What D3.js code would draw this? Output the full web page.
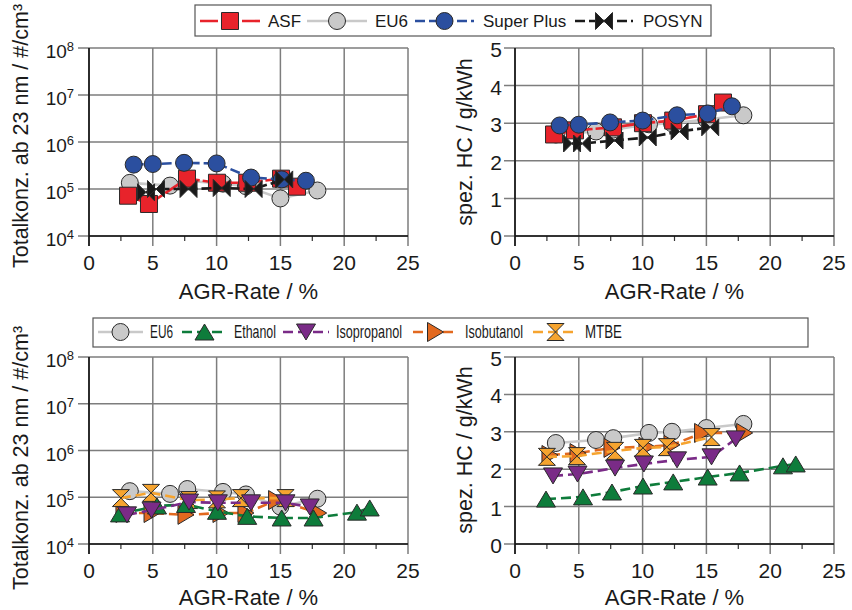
<!DOCTYPE html>
<html>
<head>
<meta charset="utf-8">
<script src="https://d3js.org/d3.v7.min.js"></script>
<style>
  body { margin: 0; background: #fff; }
  text { font-family: "Liberation Sans", Arial, Helvetica, sans-serif; fill: #1a1a1a; }
</style>
</head>
<body>
<div id="chart"></div>
<script>
// tick values
var xTicks = [0, 5, 10, 15, 20, 25];
var xMinor = [2.5, 7.5, 12.5, 17.5, 22.5];
var pnTicks = [1e4, 1e5, 1e6, 1e7, 1e8];
var hcTicks = [0, 1, 2, 3, 4, 5];

// ASF
var asfRate = [3.06, 4.7, 7.68, 10.03, 12.4, 15.05, 16.3];
var asfPN   = [7.2e4, 4.8e4, 1.66e5, 1.36e5, 1.36e5, 1.66e5, 1.12e5];
var asfHC   = [2.7, 2.81, 2.89, 3.0, 3.07, 3.24, 3.55];
// EU6
var eu6Rate = [3.2, 6.35, 7.7, 10.5, 12.3, 15.0, 17.9];
var eu6PN   = [1.35e5, 1.18e5, 1.5e5, 1.3e5, 1.15e5, 6.3e4, 9.3e4];
var eu6HC   = [2.7, 2.78, 2.83, 2.97, 3.0, 3.1, 3.21];
// Super Plus
var spRate = [3.5, 5.0, 7.45, 10.0, 12.7, 15.1, 17.0];
var spPN   = [3.3e5, 3.4e5, 3.6e5, 3.5e5, 1.75e5, 1.6e5, 1.5e5];
var spHC   = [2.94, 2.96, 3.02, 3.07, 3.21, 3.26, 3.45];
// POSYN
var posRate = [4.47, 5.25, 7.8, 10.4, 12.9, 15.3];
var posPN   = [8.5e4, 1.0e5, 1.0e5, 1.05e5, 1.0e5, 1.6e5];
var posHC   = [2.46, 2.46, 2.54, 2.62, 2.78, 2.89];
// Ethanol
var ethRate = [2.43, 5.33, 7.6, 10.03, 12.4, 15.1, 17.6, 21.0, 22.0];
var ethPN   = [4.4e4, 6.5e4, 7.0e4, 5.0e4, 3.9e4, 3.6e4, 3.6e4, 4.8e4, 5.9e4];
var ethHC   = [1.2, 1.26, 1.39, 1.55, 1.66, 1.79, 1.9, 2.09, 2.14];
// Isopropanol
var iprRate = [2.98, 4.9, 7.84, 10.1, 12.7, 15.4, 17.3];
var iprPN   = [4.2e4, 5.3e4, 7.9e4, 7.6e4, 7.6e4, 7.6e4, 6.2e4];
var iprHC   = [1.82, 1.87, 2.03, 2.14, 2.25, 2.33, 2.81];
// Isobutanol
var ibuRate = [2.74, 4.94, 7.6, 10.34, 12.3, 14.7, 18.0];
var ibuPN   = [4.6e4, 4.6e4, 4.2e4, 4.6e4, 4.6e4, 8.7e4, 4.6e4];
var ibuHC   = [2.38, 2.43, 2.57, 2.6, 2.65, 2.97, 2.97];
// MTBE
var mtbRate = [2.5, 4.86, 7.84, 10.03, 11.9, 15.4];
var mtbPN   = [9.6e4, 1.24e5, 8.7e4, 9.0e4, 9.6e4, 9.6e4];
var mtbHC   = [2.33, 2.35, 2.49, 2.57, 2.59, 2.86];

var svg = d3.select("#chart")
  .append("svg")
    .attr("width", 852)
    .attr("height", 610);

// marker shapes, centred on 0,0
function shape(type) {
  var s = 8.5;
  if (type == "circle") return d3.symbol(d3.symbolCircle, Math.PI * s * s)();
  if (type == "square") return "M" + -s + "," + -s + "h" + 2 * s + "v" + 2 * s + "h" + -2 * s + "Z";
  if (type == "up") return "M0,-8L9.5,8L-9.5,8Z";
  if (type == "down") return "M-9.5,-8L9.5,-8L0,8Z";
  if (type == "right") return "M-8,-9.5L8,0L-8,9.5Z";
  if (type == "bowtie") return "M" + -s + "," + -s + "L0,0L" + -s + "," + s + "Z" + "M" + s + "," + -s + "L0,0L" + s + "," + s + "Z";
  if (type == "hourglass") return "M" + -s + "," + -s + "L" + s + "," + -s + "L0,0Z" + "M" + -s + "," + s + "L" + s + "," + s + "L0,0Z";
}

var series = {
  asf:  { name: "ASF",        color: "#e8232b", shape: "square",    dash: "18,3" },
  eu6:  { name: "EU6",        color: "#c9c9c9", shape: "circle",    dash: null },
  sp:   { name: "Super Plus", color: "#2b4f9f", shape: "circle",    dash: "10,4" },
  pos:  { name: "POSYN",      color: "#1a1a1a", shape: "bowtie",    dash: "10,4" },
  eth:  { name: "Ethanol",    color: "#0e7c3b", shape: "up",        dash: "10,5" },
  ipr:  { name: "Isopropanol",color: "#7a2b87", shape: "down",      dash: "10,5" },
  ibu:  { name: "Isobutanol", color: "#e2691f", shape: "right",     dash: "10,5" },
  mtb:  { name: "MTBE",       color: "#f6a42f", shape: "hourglass", dash: "10,5" }
};

function drawPanel(left, right, top, bottom, isLog, yTitle, yTitleX, yTitleY, lines) {
  var x = d3.scaleLinear().domain([0, 25]).range([left, right]);
  var y = isLog
    ? d3.scaleLog().domain([1e4, 1e8]).range([bottom, top])
    : d3.scaleLinear().domain([0, 5]).range([bottom, top]);
  var yTicks = isLog ? pnTicks : hcTicks;
  var g = svg.append("g");

  // grid + outward ticks
  g.selectAll(".hg").data(yTicks).enter().append("line")
    .attr("x1", left - 11).attr("x2", right)
    .attr("y1", function(d) { return y(d); }).attr("y2", function(d) { return y(d); })
    .attr("stroke", "#7d7d7d").attr("stroke-width", 1.5);
  g.selectAll(".vg").data(xTicks).enter().append("line")
    .attr("x1", function(d) { return x(d); }).attr("x2", function(d) { return x(d); })
    .attr("y1", top).attr("y2", bottom + 10)
    .attr("stroke", "#7d7d7d").attr("stroke-width", 1.5);
  g.selectAll(".mt").data(xMinor).enter().append("line")
    .attr("x1", function(d) { return x(d); }).attr("x2", function(d) { return x(d); })
    .attr("y1", bottom).attr("y2", bottom + 5)
    .attr("stroke", "#333").attr("stroke-width", 1.2);

  // axis lines
  g.append("line").attr("x1", left).attr("x2", left).attr("y1", top).attr("y2", bottom + 10)
    .attr("stroke", "#111").attr("stroke-width", 1.6);
  g.append("line").attr("x1", left).attr("x2", right).attr("y1", bottom).attr("y2", bottom)
    .attr("stroke", "#111").attr("stroke-width", 1.6);

  // tick labels
  g.selectAll(".xl").data(xTicks).enter().append("text")
    .attr("x", function(d) { return x(d); })
    .attr("y", bottom + 34)
    .attr("text-anchor", "middle")
    .style("font-size", "21px")
    .text(function(d) { return d; });

  if (isLog) {
    var lab = g.selectAll(".yl").data(yTicks).enter().append("text")
      .attr("x", left - 15)
      .attr("y", function(d) { return y(d) + 10; })
      .attr("text-anchor", "end")
      .style("font-size", "19px");
    lab.append("tspan").text("10");
    lab.append("tspan").attr("dy", -7).style("font-size", "13px")
      .text(function(d) { return Math.round(Math.log10(d)); });
  } else {
    g.selectAll(".yl").data(yTicks).enter().append("text")
      .attr("x", left - 13)
      .attr("y", function(d) { return y(d) + 9; })
      .attr("text-anchor", "end")
      .style("font-size", "21px")
      .text(function(d) { return d; });
  }

  // axis titles
  g.append("text")
    .attr("x", (left + right) / 2)
    .attr("y", Math.min(bottom + 63, 605))
    .attr("text-anchor", "middle")
    .style("font-size", "22px")
    .text("AGR-Rate / %");
  g.append("text")
    .attr("transform", "translate(" + yTitleX + "," + yTitleY + ") rotate(-90)")
    .attr("text-anchor", "middle")
    .style("font-size", "21.5px")
    .text(yTitle);

  // series: lines first then markers, in drawing order
  lines.forEach(function(l) {
    var s = series[l.key];
    var pts = l.xs.map(function(v, i) { return [x(v), y(l.ys[i])]; });
    g.append("path")
      .attr("d", d3.line()(pts))
      .attr("fill", "none")
      .attr("stroke", s.color)
      .attr("stroke-width", 2.6)
      .attr("stroke-dasharray", s.dash);
    g.selectAll(null).data(pts).enter().append("path")
      .attr("d", shape(s.shape))
      .attr("transform", function(p) { return "translate(" + p[0] + "," + p[1] + ")"; })
      .attr("fill", s.color)
      .attr("stroke", "#2a2a2a")
      .attr("stroke-width", 1);
  });
}

var pnTitle = "Totalkonz. ab 23 nm / #/cm\u00B3";
var hcTitle = "spez. HC / g/kWh";

drawPanel(89, 408, 48, 236, true, pnTitle, 28, 136, [
  { key: "eu6", xs: eu6Rate, ys: eu6PN },
  { key: "asf", xs: asfRate, ys: asfPN },
  { key: "sp",  xs: spRate,  ys: spPN },
  { key: "pos", xs: posRate, ys: posPN }
]);
drawPanel(515, 834, 48, 236, false, hcTitle, 472, 142, [
  { key: "eu6", xs: eu6Rate, ys: eu6HC },
  { key: "asf", xs: asfRate, ys: asfHC },
  { key: "sp",  xs: spRate,  ys: spHC },
  { key: "pos", xs: posRate, ys: posHC }
]);
drawPanel(89, 408, 357, 544, true, pnTitle, 28, 458, [
  { key: "eu6", xs: eu6Rate, ys: eu6PN },
  { key: "ibu", xs: ibuRate, ys: ibuPN },
  { key: "mtb", xs: mtbRate, ys: mtbPN },
  { key: "eth", xs: ethRate, ys: ethPN },
  { key: "ipr", xs: iprRate, ys: iprPN }
]);
drawPanel(515, 834, 357, 544, false, hcTitle, 472, 450, [
  { key: "eu6", xs: eu6Rate, ys: eu6HC },
  { key: "ibu", xs: ibuRate, ys: ibuHC },
  { key: "mtb", xs: mtbRate, ys: mtbHC },
  { key: "eth", xs: ethRate, ys: ethHC },
  { key: "ipr", xs: iprRate, ys: iprHC }
]);

// Handmade legends
function legend(box, cy, items, squeeze) {
  svg.append("rect")
    .attr("x", box[0]).attr("y", box[1]).attr("width", box[2]).attr("height", box[3])
    .attr("fill", "#fff").attr("stroke", "#555").attr("stroke-width", 1.2);
  items.forEach(function(it) {
    var s = series[it.key];
    svg.append("line")
      .attr("x1", it.x1).attr("x2", it.x2).attr("y1", cy).attr("y2", cy)
      .attr("stroke", s.color).attr("stroke-width", 2.6)
      .attr("stroke-dasharray", s.dash);
    svg.append("path")
      .attr("d", shape(s.shape))
      .attr("transform", "translate(" + (it.x1 + it.x2) / 2 + "," + cy + ")")
      .attr("fill", s.color).attr("stroke", "#2a2a2a").attr("stroke-width", 1);
    var t = svg.append("text")
      .attr("x", it.tx).attr("y", cy + 6)
      .style("font-size", squeeze ? "18.5px" : "17px")
      .text(s.name);
    if (squeeze) t.attr("textLength", it.tw).attr("lengthAdjust", "spacingAndGlyphs");
  });
}

legend([195, 5, 516, 31], 21, [
  { key: "asf", x1: 200, x2: 260, tx: 268 },
  { key: "eu6", x1: 307, x2: 367, tx: 375 },
  { key: "sp",  x1: 415, x2: 474, tx: 483 },
  { key: "pos", x1: 575, x2: 633, tx: 643 }
], false);

legend([93, 318, 715, 29], 332, [
  { key: "eu6", x1: 98,  x2: 143, tx: 150, tw: 23 },
  { key: "eth", x1: 182, x2: 227, tx: 234, tw: 42 },
  { key: "ipr", x1: 283, x2: 329, tx: 336, tw: 66 },
  { key: "ibu", x1: 413, x2: 458, tx: 465, tw: 58 },
  { key: "mtb", x1: 533, x2: 578, tx: 585, tw: 37 }
], true);
</script>
</body>
</html>
